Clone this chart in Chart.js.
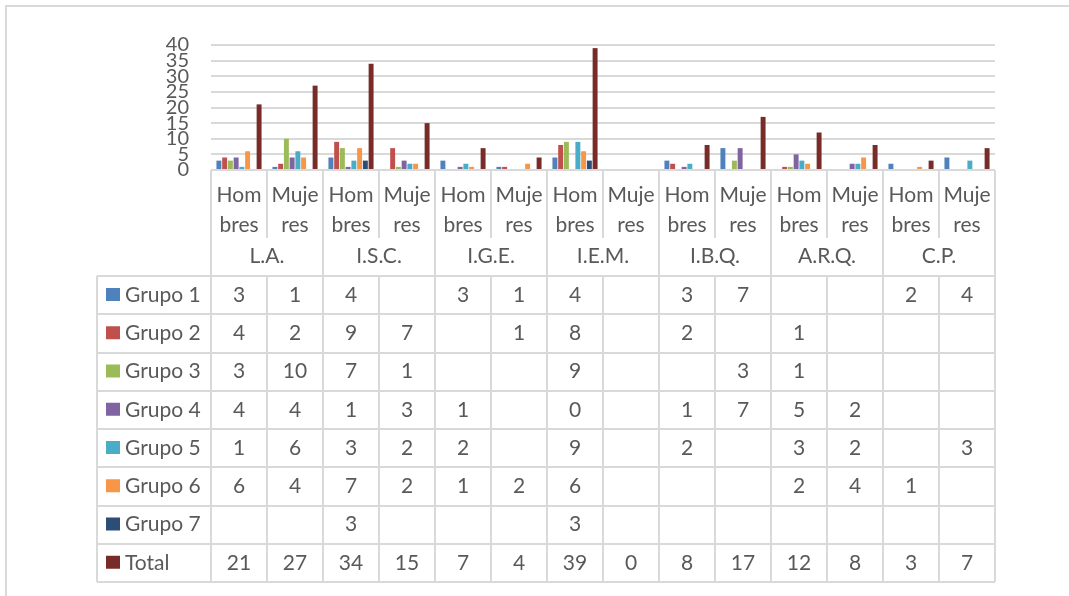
<!DOCTYPE html>
<html>
<head>
<meta charset="utf-8">
<script src="https://cdn.jsdelivr.net/npm/chart.js@4"></script>
<style>
  body { margin: 0; background: #fff; }
</style>
</head>
<body>
<canvas id="myChart" width="1069" height="596"></canvas>
<script>
const careers = ["L.A.", "I.S.C.", "I.G.E.", "I.E.M.", "I.B.Q.", "A.R.Q.", "C.P."];
const sexes = ["Hombres", "Mujeres"];
const wrapped = { Hombres: ["Hom", "bres"], Mujeres: ["Muje", "res"] };
const yTicks = [0, 5, 10, 15, 20, 25, 30, 35, 40];

const grupo1 = [3, 1, 4, null, 3, 1, 4, null, 3, 7, null, null, 2, 4];
const grupo2 = [4, 2, 9, 7, null, 1, 8, null, 2, null, 1, null, null, null];
const grupo3 = [3, 10, 7, 1, null, null, 9, null, null, 3, 1, null, null, null];
const grupo4 = [4, 4, 1, 3, 1, null, 0, null, 1, 7, 5, 2, null, null];
const grupo5 = [1, 6, 3, 2, 2, null, 9, null, 2, null, 3, 2, null, 3];
const grupo6 = [6, 4, 7, 2, 1, 2, 6, null, null, null, 2, 4, 1, null];
const grupo7 = [null, null, 3, null, null, null, 3, null, null, null, null, null, null, null];
const total = [21, 27, 34, 15, 7, 4, 39, 0, 8, 17, 12, 8, 3, 7];

const labels = [];
careers.forEach(c => sexes.forEach(s => labels.push(s)));

const textColor = "#595959";
const lineColor = "#d9d9d9";
const fontFamily = "Lato, 'Open Sans', sans-serif";

const series = [
  { label: "Grupo 1", data: grupo1, color: "#4F81BD" },
  { label: "Grupo 2", data: grupo2, color: "#C0504D" },
  { label: "Grupo 3", data: grupo3, color: "#9BBB59" },
  { label: "Grupo 4", data: grupo4, color: "#8064A2" },
  { label: "Grupo 5", data: grupo5, color: "#4BACC6" },
  { label: "Grupo 6", data: grupo6, color: "#F79646" },
  { label: "Grupo 7", data: grupo7, color: "#2C4D75" },
  { label: "Total", data: total, color: "#772C2A" },
];

// table under the plot, drawn from the same datasets and x scale
const tablePlugin = {
  id: "dataTable",
  afterDraw(chart) {
    const ctx = chart.ctx;
    const xs = chart.scales.x;
    const area = chart.chartArea;
    const colW = (xs.right - xs.left) / labels.length;
    const tableTop = 276, rowH = 38.25, tableLeft = 97;
    const rows = chart.data.datasets.length;
    const tableBottom = tableTop + rows * rowH;

    ctx.save();
    ctx.strokeStyle = lineColor;
    ctx.lineWidth = 2;

    // outer chart border (only top/left visible)
    ctx.strokeRect(6, 6, 1200, 1000);

    // category separators under the axis
    for (let i = 0; i <= labels.length; i++) {
      const x = Math.round(xs.left + i * colW);
      ctx.beginPath();
      ctx.moveTo(x, area.bottom);
      ctx.lineTo(x, i % 2 === 0 ? tableBottom : 238);
      ctx.stroke();
    }

    // table grid
    for (let r = 0; r <= rows; r++) {
      const y = Math.round(tableTop + r * rowH);
      ctx.beginPath();
      ctx.moveTo(tableLeft, y);
      ctx.lineTo(xs.right, y);
      ctx.stroke();
    }
    ctx.beginPath();
    ctx.moveTo(tableLeft, tableTop);
    ctx.lineTo(tableLeft, tableBottom);
    ctx.stroke();
    for (let i = 1; i <= labels.length; i += 2) {
      const x = Math.round(xs.left + i * colW);
      ctx.beginPath();
      ctx.moveTo(x, tableTop);
      ctx.lineTo(x, tableBottom);
      ctx.stroke();
    }

    ctx.fillStyle = textColor;
    ctx.font = "21px " + fontFamily;
    ctx.textAlign = "center";
    ctx.textBaseline = "middle";

    // career labels
    careers.forEach((c, g) => {
      const x = (xs.getPixelForValue(2 * g) + xs.getPixelForValue(2 * g + 1)) / 2;
      ctx.fillText(c, x, 256);
    });

    // rows
    chart.data.datasets.forEach((ds, r) => {
      const top = tableTop + r * rowH;
      const cy = top + rowH / 2;
      ctx.fillStyle = ds.backgroundColor;
      ctx.fillRect(106, top + 12, 14, 13);
      ctx.fillStyle = textColor;
      ctx.textAlign = "left";
      ctx.fillText(ds.label, 125, cy);
      ctx.textAlign = "center";
      ds.data.forEach((v, i) => {
        if (v === null) return;
        ctx.fillText(String(v), xs.getPixelForValue(i), cy);
      });
    });
    ctx.restore();
  },
};

new Chart(document.getElementById("myChart"), {
  type: "bar",
  data: {
    labels: labels,
    datasets: series.map(s => ({
      label: s.label,
      data: s.data,
      backgroundColor: s.color,
      borderWidth: 0,
      categoryPercentage: 0.82,
      barPercentage: 0.86,
    })),
  },
  options: {
    responsive: false,
    animation: false,
    devicePixelRatio: 1,
    layout: { padding: { top: 45, left: 0, right: 74, bottom: 356 } },
    plugins: {
      legend: { display: false },
      tooltip: { enabled: false },
    },
    scales: {
      x: {
        grid: { display: false, drawTicks: false },
        border: { display: false },
        afterFit(scale) { scale.height = 70; },
        ticks: {
          autoSkip: false,
          maxRotation: 0,
          padding: 10,
          color: textColor,
          font: { family: fontFamily, size: 21, lineHeight: "30px" },
          callback: (v, i) => wrapped[labels[i]],
        },
      },
      y: {
        min: 0,
        max: 40,
        afterFit(scale) { scale.width = 211; },
        afterBuildTicks(scale) { scale.ticks = yTicks.map(v => ({ value: v })); },
        grid: { color: lineColor, lineWidth: 2, drawTicks: false },
        border: { display: false },
        ticks: {
          stepSize: 5,
          autoSkip: false,
          padding: 22,
          color: textColor,
          font: { family: fontFamily, size: 20, lineHeight: 1 },
        },
      },
    },
  },
  plugins: [tablePlugin],
});
</script>
</body>
</html>
